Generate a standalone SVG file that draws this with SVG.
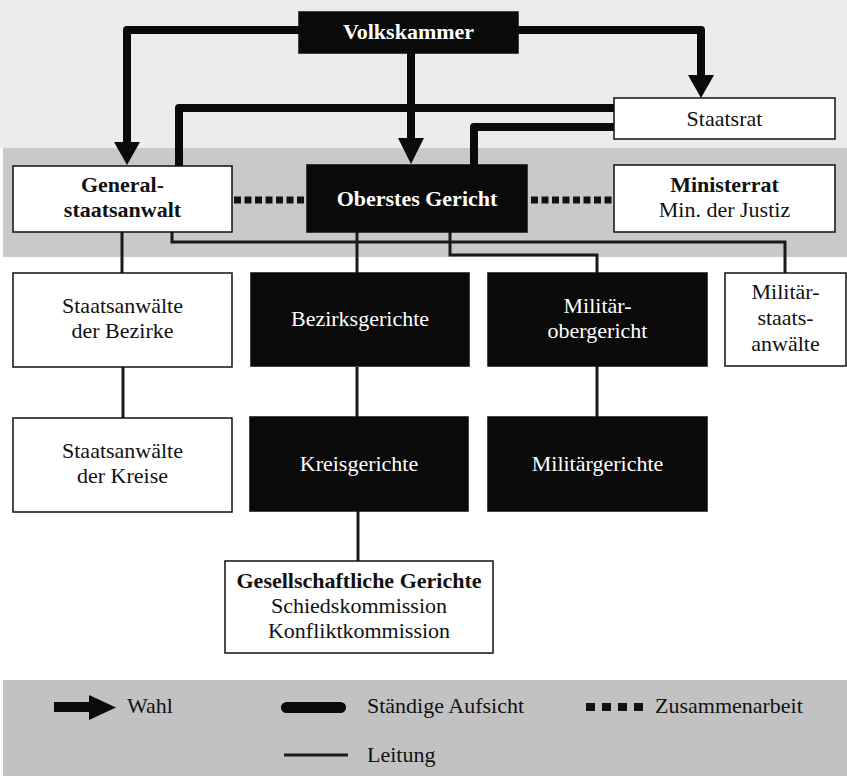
<svg xmlns="http://www.w3.org/2000/svg" width="847" height="776" viewBox="0 0 847 776">
<defs>
<style>
text{font-family:"Liberation Serif","Times New Roman",serif;font-size:22px;text-anchor:middle;fill:#111}
.b{font-weight:bold}
.w{fill:#fff}
.lt{text-anchor:start}
.wb{fill:#fff;stroke:#111;stroke-width:1.5}
.bb{fill:#0a0a0a;stroke:#0a0a0a;stroke-width:1.5}
.thick{fill:none;stroke:#0a0a0a;stroke-width:8;stroke-linejoin:round}
.thin{fill:none;stroke:#1a1a1a;stroke-width:3}
.dot{fill:none;stroke:#111;stroke-width:7;stroke-dasharray:7 3.5}
.head{fill:#0a0a0a}
</style>
</defs>
<rect x="0" y="0" width="847" height="148" fill="#ececec"/>
<rect x="3" y="148" width="844" height="109" fill="#c9c9c9"/>
<rect x="3" y="680" width="844" height="96" fill="#c2c2c2"/>

<g id="connectors">
<path class="thick" d="M299,30 H127 V143"/>
<polygon class="head" points="114,142 140,142 127,165"/>
<path class="thick" d="M518,30 H701 V76"/>
<polygon class="head" points="688,75 714,75 701,98"/>
<path class="thick" d="M411,53 V139"/>
<polygon class="head" points="398,138 424,138 411,164"/>
<path class="thick" d="M614,108 H179 V166"/>
<path class="thick" d="M614,127 H474 V166"/>
<path class="dot" d="M234,200 H306"/>
<path class="dot" d="M531,200 H613"/>
<path class="thin" d="M122,232 V273"/>
<path class="thin" d="M172,232 V242 H785 V273"/>
<path class="thin" d="M357,232 V273"/>
<path class="thin" d="M450,232 V255 H597 V273"/>
<path class="thin" d="M123,367 V418"/>
<path class="thin" d="M357,367 V417"/>
<path class="thin" d="M597,366 V417"/>
<path class="thin" d="M358,511 V561"/>
</g>

<g id="volkskammer"><rect class="bb" x="299" y="12" width="219" height="41"/><text class="b w" x="408.5" y="39">Volkskammer</text></g>
<g id="staatsrat"><rect class="wb" x="614" y="98" width="221" height="41"/><text x="724.5" y="126">Staatsrat</text></g>
<g id="generalstaatsanwalt"><rect class="wb" x="13" y="166" width="219" height="66"/><text class="b" x="122.5" y="192">General-</text><text class="b" x="122.5" y="217">staatsanwalt</text></g>
<g id="oberstes-gericht"><rect class="bb" x="307" y="165" width="220" height="67"/><text class="b w" x="417" y="206">Oberstes Gericht</text></g>
<g id="ministerrat"><rect class="wb" x="614" y="165" width="221" height="67"/><text class="b" x="724.5" y="192">Ministerrat</text><text x="724.5" y="217">Min. der Justiz</text></g>

<g id="staatsanwaelte-bezirke"><rect class="wb" x="13" y="273" width="219" height="94"/><text x="122.5" y="313">Staatsanwälte</text><text x="122.5" y="338">der Bezirke</text></g>
<g id="bezirksgerichte"><rect class="bb" x="251" y="273" width="218" height="93"/><text class="w" x="360" y="326">Bezirksgerichte</text></g>
<g id="militaerobergericht"><rect class="bb" x="488" y="273" width="219" height="93"/><text class="w" x="597.5" y="313">Militär-</text><text class="w" x="597.5" y="338">obergericht</text></g>
<g id="militaerstaatsanwaelte"><rect class="wb" x="725" y="273" width="121" height="93"/><text x="785.5" y="299">Militär-</text><text x="785.5" y="325">staats-</text><text x="785.5" y="351">anwälte</text></g>

<g id="staatsanwaelte-kreise"><rect class="wb" x="13" y="418" width="219" height="94"/><text x="122.5" y="458">Staatsanwälte</text><text x="122.5" y="483">der Kreise</text></g>
<g id="kreisgerichte"><rect class="bb" x="250" y="417" width="218" height="94"/><text class="w" x="359" y="471">Kreisgerichte</text></g>
<g id="militaergerichte"><rect class="bb" x="488" y="417" width="219" height="94"/><text class="w" x="597.5" y="471">Militärgerichte</text></g>

<g id="gesellschaftliche-gerichte"><rect class="wb" x="225" y="561" width="268" height="92"/><text class="b" x="359" y="588">Gesellschaftliche Gerichte</text><text x="359" y="613">Schiedskommission</text><text x="359" y="638">Konfliktkommission</text></g>

<g id="legend">
<rect x="54" y="702" width="37" height="10" fill="#0a0a0a"/>
<polygon class="head" points="89,695 89,720 116,707.5"/>
<text class="lt" x="127" y="713">Wahl</text>
<rect x="281" y="702" width="65" height="11" rx="5.5" fill="#0a0a0a"/>
<text class="lt" x="367" y="713">Ständige Aufsicht</text>
<path d="M586,707 H643" fill="none" stroke="#111" stroke-width="8" stroke-dasharray="9 7"/>
<text class="lt" x="655" y="713">Zusammenarbeit</text>
<path d="M284,755 H348" fill="none" stroke="#1a1a1a" stroke-width="3"/>
<text class="lt" x="367" y="762">Leitung</text>
</g>
</svg>
